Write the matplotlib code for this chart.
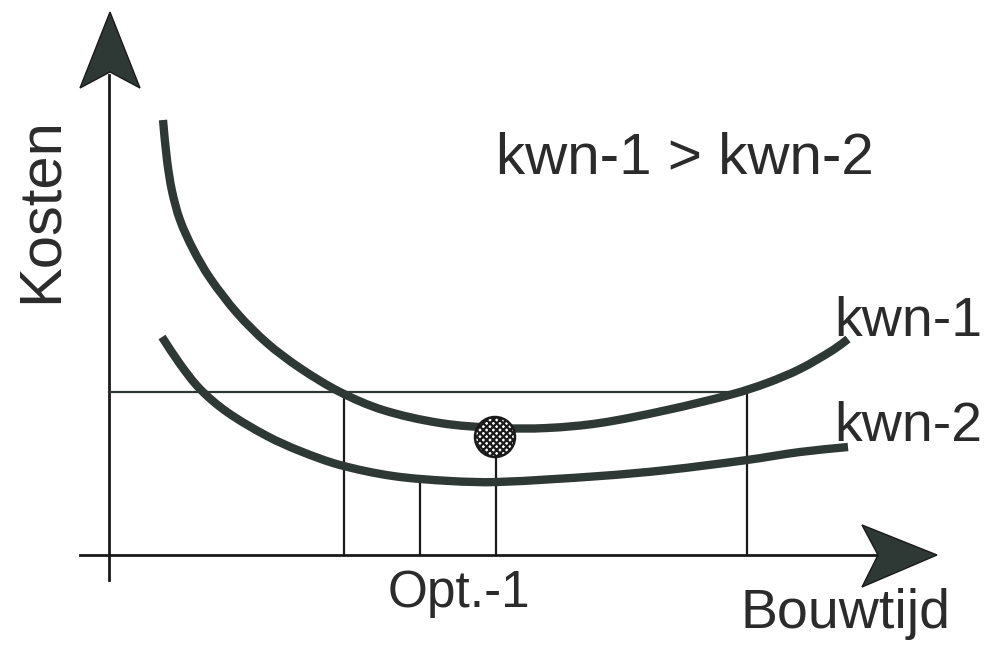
import numpy as np
import matplotlib.pyplot as plt
from matplotlib.patches import Polygon, Circle, PathPatch
from matplotlib.path import Path

plt.rcParams['font.family'] = ['Liberation Sans', 'DejaVu Sans']
plt.rcParams['hatch.linewidth'] = 1.6

# schematic units: origin at the axis crossing
kwn1_x = [0.55, 0.59, 0.64, 0.72, 0.85, 1.02, 1.29, 1.59, 1.92, 2.32, 2.75,
          3.32, 3.89, 4.39, 4.92, 5.59, 6.25, 6.59, 6.92, 7.25, 7.40]
kwn1_y = [4.35, 3.95, 3.64, 3.35, 3.06, 2.77, 2.42, 2.12, 1.87, 1.63, 1.45,
          1.32, 1.27, 1.27, 1.32, 1.45, 1.61, 1.72, 1.86, 2.05, 2.16]

kwn2_x = [0.54, 0.72, 0.92, 1.19, 1.59, 1.92, 2.32, 2.85, 3.42, 3.89, 4.92,
          5.59, 6.39, 6.92, 7.40]
kwn2_y = [2.18, 1.91, 1.66, 1.43, 1.19, 1.04, 0.90, 0.79, 0.74, 0.73, 0.79,
          0.85, 0.95, 1.03, 1.08]

budget_level = 1.63          # horizontal reference cost
budget_end = 6.39
drop_x = [2.36, 3.12, 3.88, 6.39]      # vertical guide lines
drop_top = [1.63, 0.74, 0.98, 1.63]
opt_x, opt_y, opt_r = 3.87, 1.18, 0.20

ink = '#2e3835'


def smooth_path(xs, ys):
    # cubic bezier through the points, tangents scaled by segment length
    p = np.column_stack([xs, ys]).astype(float)
    n = len(p)
    tang = np.zeros_like(p)
    for i in range(n):
        d = p[min(i + 1, n - 1)] - p[max(i - 1, 0)]
        tang[i] = d / np.hypot(*d)
    verts = [p[0]]
    codes = [Path.MOVETO]
    for i in range(n - 1):
        seg = np.hypot(*(p[i + 1] - p[i])) / 3
        verts += [p[i] + tang[i] * seg, p[i + 1] - tang[i + 1] * seg, p[i + 1]]
        codes += [Path.CURVE4] * 3
    return Path(verts, codes)


fig = plt.figure(figsize=(9.88, 6.51), dpi=100)
ax = fig.add_axes([0, 0, 1, 1])
ax.set_xlim(-1.08, 8.80)
ax.set_ylim(-0.96, 5.55)
ax.axis('off')

# axes with arrowheads
ax.plot([0.01, 0.01], [-0.25, 4.80], color='#1a1a1a', lw=2.0)
ax.plot([-0.28, 7.75], [0, 0], color='#1a1a1a', lw=2.0)
ax.add_patch(Polygon([(0.02, 5.43), (-0.28, 4.67), (0.02, 4.83), (0.32, 4.67)],
                     closed=True, fc=ink, ec='#1a1a1a', lw=1.0, zorder=3))
ax.add_patch(Polygon([(8.29, 0), (7.54, 0.30), (7.70, 0), (7.54, -0.32)],
                     closed=True, fc=ink, ec='#1a1a1a', lw=1.0, zorder=3))

# guide lines
ax.plot([0.01, budget_end], [budget_level, budget_level], color=ink, lw=1.6)
for x, top in zip(drop_x, drop_top):
    ax.plot([x, x], [0, top], color='#1a1a1a', lw=1.6)

# cost curves
for xs, ys in [(kwn1_x, kwn1_y), (kwn2_x, kwn2_y)]:
    ax.add_patch(PathPatch(smooth_path(xs, ys), fill=False, ec=ink, lw=6.0,
                           capstyle='butt', joinstyle='round', zorder=4))

# optimum marker
ax.add_patch(Circle((opt_x, opt_y), opt_r, fc='white', ec='#1a1a1a',
                    hatch='xxxxx', lw=1.8, zorder=5))

tc = '#2b2b2b'
ax.text(3.88, 3.81, 'kwn-1 > kwn-2', fontsize=42, color=tc, ha='left', va='baseline')
ax.text(7.26, 2.19, 'kwn-1', fontsize=40, color=tc, ha='left', va='baseline')
ax.text(7.26, 1.14, 'kwn-2', fontsize=40, color=tc, ha='left', va='baseline')
ax.text(2.80, -0.52, 'Opt.-1', fontsize=37, color=tc, ha='left', va='baseline')
ax.text(6.32, -0.73, 'Bouwtijd', fontsize=40, color=tc, ha='left', va='baseline')
ax.text(-0.51, 2.52, 'Kosten', fontsize=43, color=tc, rotation=90,
        rotation_mode='anchor', ha='left', va='baseline')

fig.savefig('out.png', dpi=100)
